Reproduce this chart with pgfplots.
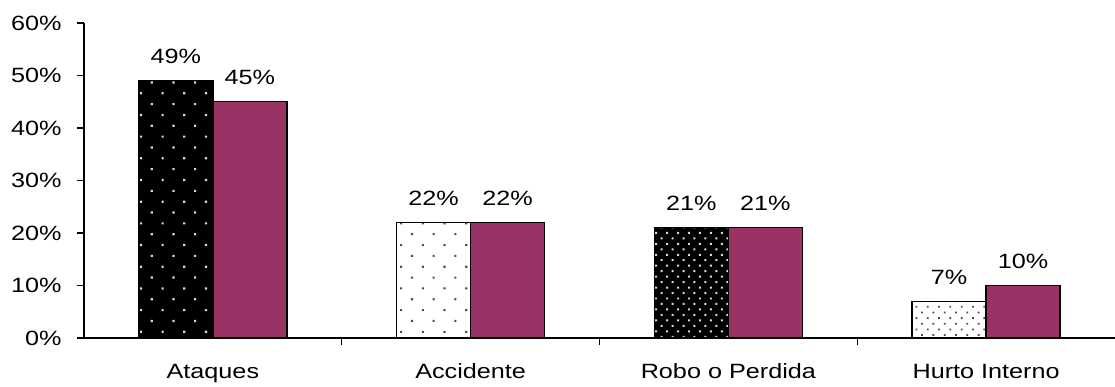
\documentclass[border=0pt]{standalone}
\usepackage{pgfplots}
\pgfplotsset{compat=1.18}
\usepackage{fontspec}
\setmainfont{Liberation Sans}[FakeStretch=1.22]
\usetikzlibrary{patterns.meta}
\definecolor{plum}{HTML}{993366}
\definecolor{dotgray}{HTML}{505050}

\begin{document}
\begin{tikzpicture}
\useasboundingbox (0,0) rectangle (836.25pt,289.5pt);
\begin{axis}[
  at={(63pt,36pt)}, anchor=south west,
  scale only axis, width=773.25pt, height=236.25pt,
  xmin=-0.5, xmax=3.5, ymin=0, ymax=60,
  axis lines*=left,
  axis line style={line width=1.4pt},
  ybar, bar width=55.5pt,
  clip=false,
  /pgf/number format/assume math mode=true,
  tick align=outside,
  major tick length=5.25pt,
  tick style={black, line width=1.1pt},
  xtick={0.5,1.5,2.5},
  xticklabels={},
  extra x ticks={0,1,2,3},
  extra x tick labels={Ataques, Accidente, Robo o Perdida, Hurto Interno},
  extra x tick style={major tick length=0pt},
  xticklabel style={anchor=base, yshift=-30.5pt},
  ytick={0,10,20,30,40,50,60},
  yticklabels={0\%,10\%,20\%,30\%,40\%,50\%,60\%},
  yticklabel style={xshift=-8pt},
  tick label style={font=\fontsize{15.5}{18}\selectfont},
  nodes near coords={\pgfmathprintnumber{\pgfplotspointmeta}\%},
  every node near coord/.append style={text=black, anchor=base, yshift=12.75pt,
    inner sep=0pt, font=\fontsize{15.5}{18}\selectfont},
]
% first series: each category has its own dotted fill
\addplot[bar shift=-27.75pt, draw=black, line width=1.1pt, fill=black,
  postaction={pattern={Dots[angle=45,distance=11.5pt,radius=1.15pt]}, pattern color=white!85!black}]
  coordinates {(0,49)};
\addplot[bar shift=-27.75pt, draw=black, line width=1.1pt, fill=white,
  postaction={pattern={Dots[angle=45,distance=11.5pt,radius=1.1pt]}, pattern color=dotgray}]
  coordinates {(1,22)};
\addplot[bar shift=-27.75pt, draw=black, line width=1.1pt, fill=black,
  postaction={pattern={Dots[angle=45,distance=5.8pt,radius=1.05pt]}, pattern color=white!85!black}]
  coordinates {(2,21)};
\addplot[bar shift=-27.75pt, draw=black, line width=1.1pt, fill=white,
  postaction={pattern={Dots[angle=45,distance=6pt,radius=0.95pt]}, pattern color=dotgray}]
  coordinates {(3,7)};
% second series
\addplot[bar shift=27.75pt, draw=black, line width=1.1pt, fill=plum]
  coordinates {(0,45) (1,22) (2,21) (3,10)};
\end{axis}
\end{tikzpicture}
\end{document}
